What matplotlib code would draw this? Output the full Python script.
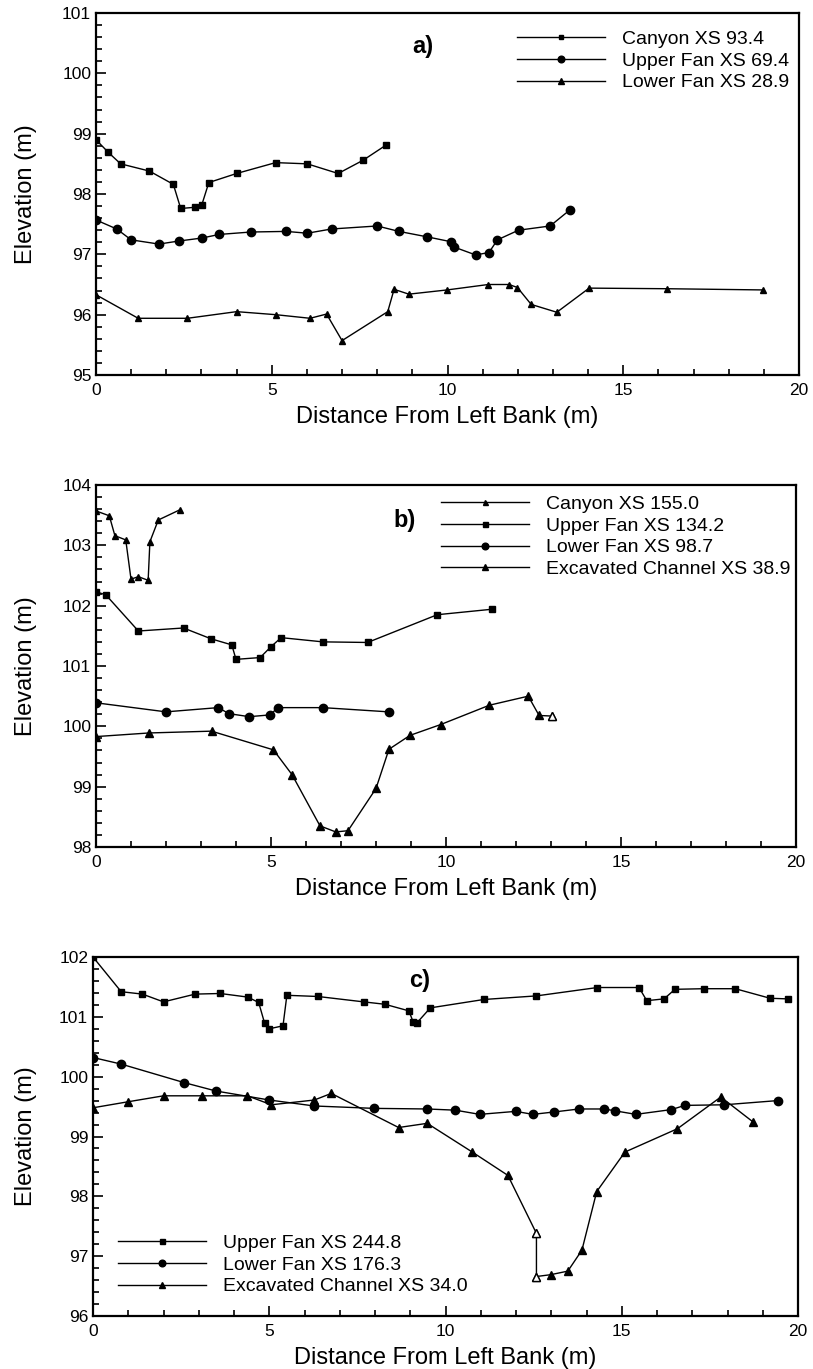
import matplotlib
matplotlib.use("Agg")
import matplotlib.pyplot as plt
from matplotlib.ticker import MultipleLocator

plt.rcParams['font.family'] = ['Liberation Sans', 'DejaVu Sans']

# ---------------- Panel a data ----------------
a_canyon_x = [0.0, 0.35, 0.70, 1.52, 2.20, 2.41, 2.82, 3.01, 3.21, 4.00, 5.11, 6.01, 6.89, 7.60, 8.25]
a_canyon_y = [98.90, 98.69, 98.50, 98.38, 98.16, 97.76, 97.78, 97.82, 98.19, 98.34, 98.52, 98.50, 98.34, 98.56, 98.81]
a_upper_x = [0.0, 0.59, 1.00, 1.79, 2.35, 3.01, 3.51, 4.41, 5.41, 6.01, 6.70, 8.00, 8.62, 9.42,
             10.09, 10.19, 10.80, 11.18, 11.42, 12.02, 12.92, 13.49]
a_upper_y = [97.57, 97.42, 97.24, 97.17, 97.22, 97.27, 97.33, 97.37, 97.38, 97.35, 97.42, 97.47, 97.38, 97.29,
             97.21, 97.12, 96.99, 97.03, 97.24, 97.40, 97.47, 97.74]
a_lower_x = [0.0, 1.20, 2.60, 4.00, 5.11, 6.09, 6.56, 7.00, 8.30, 8.48, 8.90, 9.99, 11.16, 11.75,
             11.99, 12.38, 13.11, 14.03, 16.24, 18.97]
a_lower_y = [96.33, 95.94, 95.94, 96.05, 96.00, 95.94, 96.01, 95.57, 96.05, 96.42, 96.34, 96.41, 96.50, 96.50,
             96.45, 96.17, 96.04, 96.44, 96.43, 96.41]
a_labels = ["Canyon XS 93.4", "Upper Fan XS 69.4", "Lower Fan XS 28.9"]

# ---------------- Panel b data ----------------
b_canyon_x = [0.0, 0.38, 0.54, 0.85, 1.00, 1.21, 1.49, 1.54, 1.78, 2.40]
b_canyon_y = [103.57, 103.49, 103.16, 103.09, 102.44, 102.48, 102.42, 103.06, 103.42, 103.59]
b_upper_x = [0.0, 0.28, 1.21, 2.50, 3.29, 3.88, 4.00, 4.69, 5.00, 5.29, 6.48, 7.76, 9.75, 11.30]
b_upper_y = [102.23, 102.18, 101.58, 101.63, 101.45, 101.35, 101.11, 101.14, 101.32, 101.47, 101.40, 101.39,
             101.85, 101.94]
b_lower_x = [0.0, 2.00, 3.49, 3.80, 4.38, 4.98, 5.19, 6.48, 8.36]
b_lower_y = [100.39, 100.24, 100.31, 100.21, 100.16, 100.19, 100.31, 100.31, 100.24]
b_exc_x = [0.0, 1.51, 3.30, 5.07, 5.60, 6.40, 6.85, 7.20, 8.00, 8.37, 8.97, 9.85, 11.24, 12.35, 12.66, 13.04]
b_exc_y = [99.83, 99.89, 99.92, 99.61, 99.20, 98.35, 98.25, 98.27, 98.97, 99.62, 99.85, 100.03, 100.35, 100.50,
           100.18, 100.17]
b_labels = ["Canyon XS 155.0", "Upper Fan XS 134.2", "Lower Fan XS 98.7", "Excavated Channel XS 38.9"]

# ---------------- Panel c data ----------------
c_upper_x = [0.0, 0.80, 1.40, 2.00, 2.90, 3.61, 4.39, 4.70, 4.87, 5.00, 5.39, 5.50, 6.38, 7.68, 8.28, 8.96,
             9.08, 9.19, 9.57, 11.09, 12.58, 14.31, 15.49, 15.71, 16.20, 16.51, 17.32, 18.22, 19.21, 19.71]
c_upper_y = [102.00, 101.42, 101.38, 101.25, 101.38, 101.39, 101.33, 101.24, 100.89, 100.80, 100.85, 101.36,
             101.34, 101.25, 101.21, 101.10, 100.92, 100.90, 101.15, 101.29, 101.35, 101.49, 101.49, 101.27,
             101.30, 101.46, 101.47, 101.47, 101.31, 101.30]
c_lower_x = [0.0, 0.80, 2.59, 3.49, 5.00, 6.28, 7.98, 9.48, 10.28, 10.97, 11.99, 12.48, 13.08, 13.79, 14.50,
             14.80, 15.40, 16.41, 16.79, 17.91, 19.42]
c_lower_y = [100.32, 100.21, 99.90, 99.76, 99.61, 99.51, 99.47, 99.46, 99.44, 99.37, 99.42, 99.37, 99.41, 99.46,
             99.46, 99.43, 99.37, 99.45, 99.52, 99.53, 99.60]
c_exc_x = [0.0, 0.99, 2.00, 3.09, 4.38, 5.06, 6.28, 6.76, 8.67, 9.48, 10.76, 11.77, 12.58, 12.58, 12.98, 13.47,
           13.87, 14.29, 15.09, 16.58, 17.81, 18.71]
c_exc_y = [99.48, 99.58, 99.68, 99.68, 99.68, 99.53, 99.61, 99.72, 99.15, 99.22, 98.74, 98.35, 97.38, 96.66,
           96.69, 96.75, 97.10, 98.08, 98.74, 99.13, 99.66, 99.25]
c_labels = ["Upper Fan XS 244.8", "Lower Fan XS 176.3", "Excavated Channel XS 34.0"]

W, H = 813, 1369
fig = plt.figure(figsize=(W / 100, H / 100), dpi=100)


def make_axes(left, right, top, bottom):
    return fig.add_axes([left / W, 1 - bottom / H, (right - left) / W, (bottom - top) / H])


def style(ax, ylo, yhi, left, right, top, bottom):
    ax.set_xlim(0, 20)
    ax.set_ylim(ylo, yhi)
    ax.xaxis.set_major_locator(MultipleLocator(5))
    ax.xaxis.set_minor_locator(MultipleLocator(1))
    ax.yaxis.set_major_locator(MultipleLocator(1))
    ax.yaxis.set_minor_locator(MultipleLocator(0.2))
    ax.tick_params(which='both', direction='in', top=False, right=False, labelsize=12.5, width=1.2)
    ax.tick_params(which='major', length=7)
    ax.tick_params(which='minor', length=4)
    ax.tick_params(axis='x', pad=6)
    for s in ax.spines.values():
        s.set_linewidth(1.6)
    ax.set_xlabel("Distance From Left Bank (m)", fontsize=17, va='center')
    ax.xaxis.set_label_coords(0.5, -42 / (bottom - top))
    ax.set_ylabel("Elevation (m)", fontsize=17, va='center')
    ax.yaxis.set_label_coords(-(left - 26) / (right - left), 0.5)


line_kw = dict(color='black', linewidth=1.0, markeredgecolor='black', markerfacecolor='black')
leg_kw = dict(loc='upper left', frameon=False, fontsize=14, handlelength=4.5, handletextpad=0.9,
              labelspacing=0.22, borderpad=0, borderaxespad=0, markerscale=0.8)

# ---- Panel a ----
L, R, T, B = 96, 799, 13, 375
ax = make_axes(L, R, T, B)
ax.plot(a_canyon_x, a_canyon_y, marker='s', markersize=4, label=a_labels[0], **line_kw)
ax.plot(a_upper_x, a_upper_y, marker='o', markersize=6, label=a_labels[1], **line_kw)
ax.plot(a_lower_x, a_lower_y, marker='^', markersize=5, label=a_labels[2], **line_kw)
style(ax, 95, 101, L, R, T, B)
ax.text((423 - L) / (R - L), 1 - (46 - T) / (B - T), "a)", transform=ax.transAxes, fontsize=17,
        fontweight='bold', ha='center', va='center')
ax.legend(bbox_to_anchor=((517 - L) / (R - L), 1 - (30 - T) / (B - T)), **leg_kw)

# ---- Panel b ----
L, R, T, B = 96, 796, 485, 847
ax = make_axes(L, R, T, B)
ax.plot(b_canyon_x, b_canyon_y, marker='^', markersize=4.5, label=b_labels[0], **line_kw)
ax.plot(b_upper_x, b_upper_y, marker='s', markersize=4.5, label=b_labels[1], **line_kw)
ax.plot(b_lower_x, b_lower_y, marker='o', markersize=6, label=b_labels[2], **line_kw)
ax.plot(b_exc_x, b_exc_y, marker='^', markersize=5.5, label=b_labels[3], **line_kw)
ax.plot(b_exc_x[-1:], b_exc_y[-1:], linestyle='none', marker='^', markersize=5.5,
        markerfacecolor='white', markeredgecolor='black')
style(ax, 98, 104, L, R, T, B)
ax.text((405 - L) / (R - L), 1 - (520 - T) / (B - T), "b)", transform=ax.transAxes, fontsize=17,
        fontweight='bold', ha='center', va='center')
ax.legend(bbox_to_anchor=((441 - L) / (R - L), 1 - (495 - T) / (B - T)), **leg_kw)

# ---- Panel c ----
L, R, T, B = 93, 798, 957, 1316
ax = make_axes(L, R, T, B)
ax.plot(c_upper_x, c_upper_y, marker='s', markersize=4.5, label=c_labels[0], **line_kw)
ax.plot(c_lower_x, c_lower_y, marker='o', markersize=6, label=c_labels[1], **line_kw)
ax.plot(c_exc_x, c_exc_y, marker='^', markersize=5.5, label=c_labels[2], **line_kw)
ax.plot(c_exc_x[12:14], c_exc_y[12:14], linestyle='none', marker='^', markersize=5.5,
        markerfacecolor='white', markeredgecolor='black')
style(ax, 96, 102, L, R, T, B)
ax.text((420 - L) / (R - L), 1 - (981 - T) / (B - T), "c)", transform=ax.transAxes, fontsize=17,
        fontweight='bold', ha='center', va='center')
ax.legend(bbox_to_anchor=((118 - L) / (R - L), 1 - (1234 - T) / (B - T)), **leg_kw)

fig.savefig("out.png", dpi=100)
